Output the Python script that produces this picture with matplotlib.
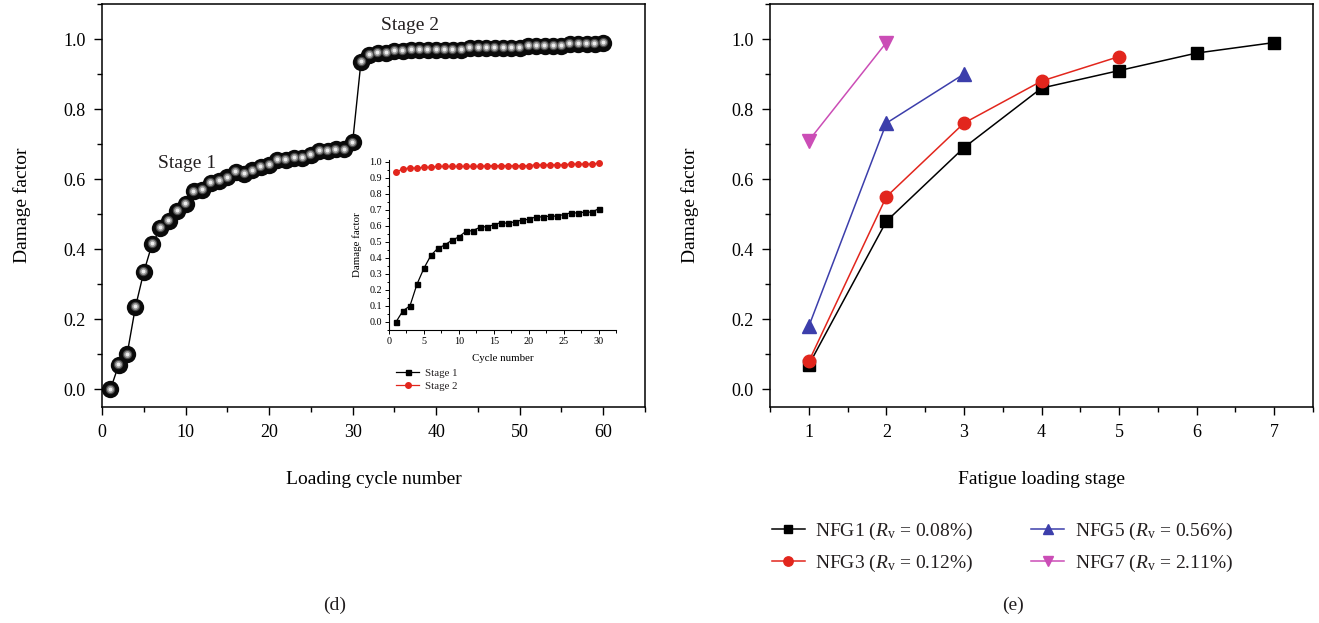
import matplotlib
matplotlib.use("Agg")
import matplotlib.pyplot as plt
from matplotlib.ticker import MultipleLocator, FormatStrFormatter
from matplotlib.transforms import offset_copy

# ---- data -------------------------------------------------------------
stage1_damage = [0.000, 0.070, 0.100, 0.235, 0.335, 0.415, 0.460, 0.480, 0.510, 0.530,
                 0.565, 0.570, 0.590, 0.595, 0.605, 0.620, 0.615, 0.625, 0.635, 0.640,
                 0.655, 0.655, 0.660, 0.660, 0.670, 0.680, 0.680, 0.685, 0.685, 0.705]
stage2_damage = [0.935, 0.955, 0.960, 0.960, 0.965, 0.965, 0.970, 0.970, 0.970, 0.970,
                 0.970, 0.970, 0.970, 0.975, 0.975, 0.975, 0.975, 0.975, 0.975, 0.975,
                 0.980, 0.980, 0.980, 0.980, 0.980, 0.985, 0.985, 0.985, 0.985, 0.990]
cycles_stage = list(range(1, 31))
cycles_all = list(range(1, 61))

fatigue_stage = [1, 2, 3, 4, 5, 6, 7]
nfg1 = [0.07, 0.48, 0.69, 0.86, 0.91, 0.96, 0.99]
nfg3 = [0.08, 0.55, 0.76, 0.88, 0.95]
nfg5 = [0.18, 0.76, 0.90]
nfg7 = [0.71, 0.99]
series_labels = [r"NFG1 ($R_\mathrm{v}$ = 0.08%)", r"NFG3 ($R_\mathrm{v}$ = 0.12%)",
                 r"NFG5 ($R_\mathrm{v}$ = 0.56%)", r"NFG7 ($R_\mathrm{v}$ = 2.11%)"]

# ---- style ------------------------------------------------------------
plt.rcParams["font.family"] = ["Liberation Serif", "DejaVu Serif"]
plt.rcParams["mathtext.fontset"] = "custom"
plt.rcParams["mathtext.rm"] = "Liberation Serif"
plt.rcParams["mathtext.it"] = "Liberation Serif:italic"
plt.rcParams["axes.linewidth"] = 1.1
plt.rcParams["text.color"] = "#231f20"

RED = "#e2261d"
BLUE = "#3c3eab"
MAGENTA = "#cb4db6"

W, H = 1319, 623
fig = plt.figure(figsize=(W / 100, H / 100), dpi=100)


def px_axes(x0, y0, x1, y1):
    """Axes rectangle given in pixel corners (top-left origin)."""
    return fig.add_axes([x0 / W, 1 - y1 / H, (x1 - x0) / W, (y1 - y0) / H])


def style_ticks(ax, size=13, major=6, minor=3.5, width=1.0):
    ax.tick_params(which="major", direction="out", length=major, width=width,
                   labelsize=size, pad=6)
    ax.tick_params(which="minor", direction="out", length=minor, width=width)


# ---- panel (d) --------------------------------------------------------
axd = px_axes(102, 4, 645, 407)
all_damage = stage1_damage + stage2_damage
axd.plot(cycles_all, all_damage, color="black", lw=1.0, zorder=1)
axd.plot(cycles_all, all_damage, ls="none", marker="o", ms=12.5, mfc="#0a0a0a",
         mec="none", zorder=2)
# shaded highlight to give each point a glossy sphere look
hl = offset_copy(axd.transData, fig=fig, x=-0.3, y=0.6, units="points")
axd.plot(cycles_all, all_damage, ls="none", marker="o", ms=6.8, mfc="#4a4a4a",
         mec="none", transform=hl, zorder=3)
axd.plot(cycles_all, all_damage, ls="none", marker="o", ms=5.0, mfc="#9c9c9c",
         mec="none", transform=hl, zorder=4)
axd.plot(cycles_all, all_damage, ls="none", marker="o", ms=2.8, mfc="#eeeeee",
         mec="none", transform=hl, zorder=5)
axd.set_xlim(0, 65)
axd.set_ylim(-0.05, 1.1)
axd.xaxis.set_major_locator(MultipleLocator(10))
axd.xaxis.set_minor_locator(MultipleLocator(5))
axd.yaxis.set_major_locator(MultipleLocator(0.2))
axd.yaxis.set_minor_locator(MultipleLocator(0.1))
axd.yaxis.set_major_formatter(FormatStrFormatter("%.1f"))
style_ticks(axd)
axd.set_xlabel("Loading cycle number", fontsize=14, labelpad=22)
axd.set_ylabel("Damage factor", fontsize=14, labelpad=23)
axd.text(10.2, 0.645, "Stage 1", fontsize=14, ha="center", va="center")
axd.text(36.9, 1.04, "Stage 2", fontsize=14, ha="center", va="center")

# inset
axi = px_axes(389, 160, 616, 330)
axi.plot(cycles_stage, stage1_damage, color="black", lw=0.9, marker="s", ms=3.6,
         label="Stage 1")
axi.plot(cycles_stage, stage2_damage, color=RED, lw=0.9, marker="o", ms=4.0,
         label="Stage 2")
axi.set_xlim(0, 32.5)
axi.set_ylim(-0.05, 1.01)
axi.spines["top"].set_visible(False)
axi.spines["right"].set_visible(False)
axi.spines["left"].set_linewidth(0.8)
axi.spines["bottom"].set_linewidth(0.8)
axi.xaxis.set_major_locator(MultipleLocator(5))
axi.xaxis.set_minor_locator(MultipleLocator(2.5))
axi.yaxis.set_major_locator(MultipleLocator(0.1))
axi.yaxis.set_minor_locator(MultipleLocator(0.05))
axi.yaxis.set_major_formatter(FormatStrFormatter("%.1f"))
axi.tick_params(which="major", direction="out", length=3, width=0.7, labelsize=7.3, pad=2)
axi.tick_params(which="minor", direction="out", length=1.8, width=0.7)
axi.set_xlabel("Cycle number", fontsize=7.8, labelpad=6)
axi.set_ylabel("Damage factor", fontsize=7.8, labelpad=5)
axi.legend(loc="upper left", bbox_to_anchor=(391 / W, 1 - 363 / H),
           bbox_transform=fig.transFigure, frameon=False, fontsize=7.8,
           handlelength=2.1, handletextpad=0.5, borderpad=0, labelspacing=0.3)

# ---- panel (e) --------------------------------------------------------
axe = px_axes(770, 4, 1313, 407)
lw = 1.1
h1, = axe.plot(fatigue_stage, nfg1, color="black", lw=lw, marker="s", ms=8.5,
               label=series_labels[0])
h3, = axe.plot(fatigue_stage[:len(nfg3)], nfg3, color=RED, lw=lw, marker="o", ms=9,
               label=series_labels[1])
h5, = axe.plot(fatigue_stage[:len(nfg5)], nfg5, color=BLUE, lw=lw, marker="^", ms=9.5,
               label=series_labels[2])
h7, = axe.plot(fatigue_stage[:len(nfg7)], nfg7, color=MAGENTA, lw=lw, marker="v", ms=9.5,
               label=series_labels[3])
axe.set_xlim(0.5, 7.5)
axe.set_ylim(-0.05, 1.1)
axe.xaxis.set_major_locator(MultipleLocator(1))
axe.xaxis.set_minor_locator(MultipleLocator(0.5))
axe.yaxis.set_major_locator(MultipleLocator(0.2))
axe.yaxis.set_minor_locator(MultipleLocator(0.1))
axe.yaxis.set_major_formatter(FormatStrFormatter("%.1f"))
style_ticks(axe)
axe.set_xlabel("Fatigue loading stage", fontsize=14, labelpad=22)
axe.set_ylabel("Damage factor", fontsize=14, labelpad=23)

leg = fig.legend(handles=[h1, h3, h5, h7], ncol=2, loc="upper left",
                 bbox_to_anchor=(762 / W, 1 - 511 / H), frameon=False, fontsize=14,
                 handlelength=1.7, handletextpad=0.55, columnspacing=2.95,
                 labelspacing=0.55, borderpad=0, markerscale=0.75)

fig.text(335 / W, 1 - 605 / H, "(d)", fontsize=14, ha="center", va="center")
fig.text(1013 / W, 1 - 605 / H, "(e)", fontsize=14, ha="center", va="center")

fig.savefig("out.png", dpi=100)
